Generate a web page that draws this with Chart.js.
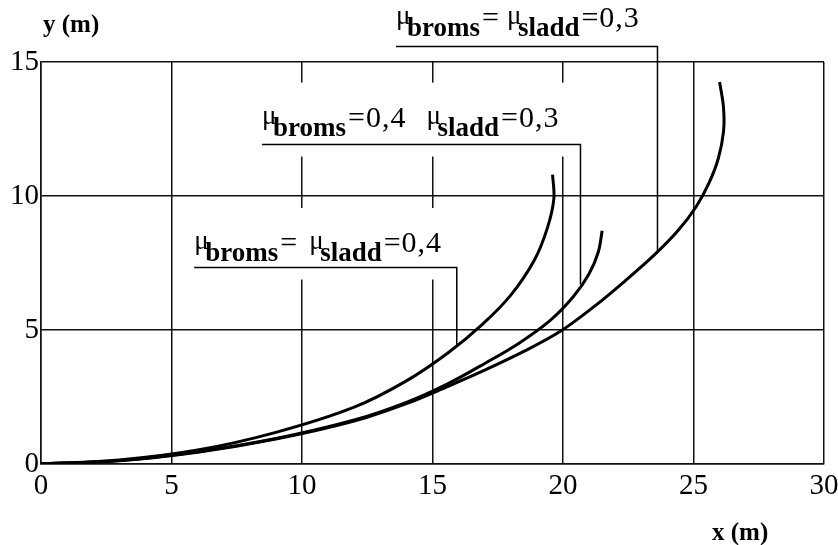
<!DOCTYPE html>
<html>
<head>
<meta charset="utf-8">
<script src="https://cdn.jsdelivr.net/npm/chart.js@4.4.1/dist/chart.umd.min.js"></script>
<style>
  body { margin: 0; background: #fff; }
  #wrap { width: 838px; height: 545px; }
</style>
</head>
<body>
<div id="wrap"><canvas id="bana" width="838" height="545"></canvas></div>
<script>
// axlar
const xTicks = [0, 5, 10, 15, 20, 25, 30];
const yTicks = [0, 5, 10, 15];

// kurvor (x och y i meter)
const xBroms04Sladd04 = [0, 3, 6, 9, 12, 14, 15.6, 16.9, 18.0, 18.9, 19.4, 19.65, 19.6];
const yBroms04Sladd04 = [0, 0.15, 0.52, 1.18, 2.12, 3.1, 4.15, 5.2, 6.3, 7.6, 8.8, 9.9, 10.8];

const xBroms04Sladd03 = [0, 3, 6, 9, 12, 14, 15.6, 17.0, 18.3, 19.5, 20.4, 21.0, 21.35, 21.5];
const yBroms04Sladd03 = [0, 0.13, 0.46, 0.95, 1.64, 2.3, 3.0, 3.75, 4.5, 5.35, 6.25, 7.1, 7.9, 8.7];

const xBroms03Sladd03 = [0, 3, 6, 9, 12, 14, 15.6, 17.0, 18.5, 19.9, 21.2, 22.4, 23.5, 24.4, 25.1, 25.6, 25.95, 26.15, 26.15, 26.0];
const yBroms03Sladd03 = [0, 0.12, 0.44, 0.93, 1.6, 2.25, 2.9, 3.5, 4.2, 4.95, 5.88, 6.85, 7.8, 8.7, 9.6, 10.5, 11.4, 12.4, 13.3, 14.25];

// etiketter: text i delar
const labelParts = [
  [['mu'], ['sub', 'broms'], ['txt', '='], ['gap', 7], ['mu'], ['sub', 'sladd'], ['txt', '=0,3']],
  [['mu'], ['sub', 'broms'], ['txt', '=0,4'], ['gap', 20], ['mu'], ['sub', 'sladd'], ['txt', '=0,3']],
  [['mu'], ['sub', 'broms'], ['txt', '='], ['gap', 11], ['mu'], ['sub', 'sladd'], ['txt', '=0,4']]
];
// var etiketterna sitter (i axelns enheter)
const labelX = [13.6, 8.47, 5.87];
const labelY = [16.29, 12.59, 7.91];
const underlineY = [15.58, 11.92, 7.33];
const leaderX = [23.62, 20.67, 15.93];
const leaderEndY = [7.9, 6.7, 4.45];

function punkter(xs, ys) {
  return xs.map((x, i) => ({ x: x, y: ys[i] }));
}

function kurva(xs, ys) {
  return {
    data: punkter(xs, ys),
    showLine: true,
    borderColor: '#000',
    borderWidth: 3,
    pointRadius: 0,
    tension: 0.35,
    fill: false
  };
}

const serif = '"Liberation Serif", "DejaVu Serif", serif';

/* ritar etiketter, vita rutor och hänvisningslinjer */
const etiketter = {
  id: 'etiketter',
  beforeDatasetsDraw(chart) {
    const c = chart.ctx;
    const sx = chart.scales.x;
    const sy = chart.scales.y;
    c.save();
    c.textAlign = 'left';
    c.textBaseline = 'alphabetic';
    for (let i = 0; i < labelParts.length; i++) {
      const x0 = sx.getPixelForValue(labelX[i]);
      const base = sy.getPixelForValue(labelY[i]);
      const uy = sy.getPixelForValue(underlineY[i]);
      const lx = sx.getPixelForValue(leaderX[i]);
      const ly = sy.getPixelForValue(leaderEndY[i]);

      c.fillStyle = '#fff';
      c.fillRect(x0 - 6, base - 44, lx + 5 - (x0 - 6), uy + 12 - (base - 44));

      c.fillStyle = '#000';
      let cx = x0;
      for (const p of labelParts[i]) {
        if (p[0] === 'mu') {
          c.letterSpacing = '0px';
          c.font = '27px ' + serif;
          c.fillText('μ', cx, base - 3);
          cx += 11;
        } else if (p[0] === 'sub') {
          c.letterSpacing = '0px';
          c.font = 'bold 27px ' + serif;
          c.fillText(p[1], cx, base + 9);
          cx += c.measureText(p[1]).width + 2;
        } else if (p[0] === 'txt') {
          c.letterSpacing = '1px';
          c.font = '30px ' + serif;
          c.fillText(p[1], cx, base);
          cx += c.measureText(p[1]).width;
        } else {
          cx += p[1];
        }
      }
      c.letterSpacing = '0px';

      c.strokeStyle = '#000';
      c.lineWidth = 1.5;
      c.beginPath();
      c.moveTo(x0, uy);
      c.lineTo(lx, uy);
      c.lineTo(lx, ly);
      c.stroke();
    }

    // axeltitlar
    const a = chart.chartArea;
    c.font = 'bold 25px ' + serif;
    c.fillText('y (m)', a.left + 2, a.top - 30);
    c.fillText('x (m)', a.right - 112, a.bottom + 76);
    c.restore();
  }
};

const ctx = document.getElementById('bana');

const config = {
  type: 'scatter',
  data: {
    datasets: [
      kurva(xBroms04Sladd04, yBroms04Sladd04),
      kurva(xBroms04Sladd03, yBroms04Sladd03),
      kurva(xBroms03Sladd03, yBroms03Sladd03)
    ]
  },
  options: {
    responsive: false,
    animation: false,
    layout: { padding: { top: 62, right: 14, bottom: 41, left: 0 } },
    plugins: {
      legend: { display: false },
      tooltip: { enabled: false }
    },
    scales: {
      x: {
        type: 'linear',
        min: xTicks[0],
        max: xTicks[xTicks.length - 1],
        afterBuildTicks: (s) => { s.ticks = xTicks.map(v => ({ value: v })); },
        afterFit: (s) => { s.height = 40; s.paddingLeft = 0; s.paddingRight = 0; },
        grid: { color: '#111', lineWidth: 1.5, drawTicks: false },
        border: { color: '#111', width: 1.5 },
        ticks: { color: '#000', padding: 5, font: { family: serif, size: 29 } }
      },
      y: {
        type: 'linear',
        min: yTicks[0],
        max: yTicks[yTicks.length - 1],
        afterBuildTicks: (s) => { s.ticks = yTicks.map(v => ({ value: v })); },
        afterFit: (s) => { s.width = 41; },
        grid: { color: '#111', lineWidth: 1.5, drawTicks: false },
        border: { color: '#111', width: 1.5 },
        ticks: { color: '#000', padding: 2, font: { family: serif, size: 29 } }
      }
    }
  },
  plugins: [etiketter]
};

const myChart = new Chart(ctx, config);
</script>
</body>
</html>
